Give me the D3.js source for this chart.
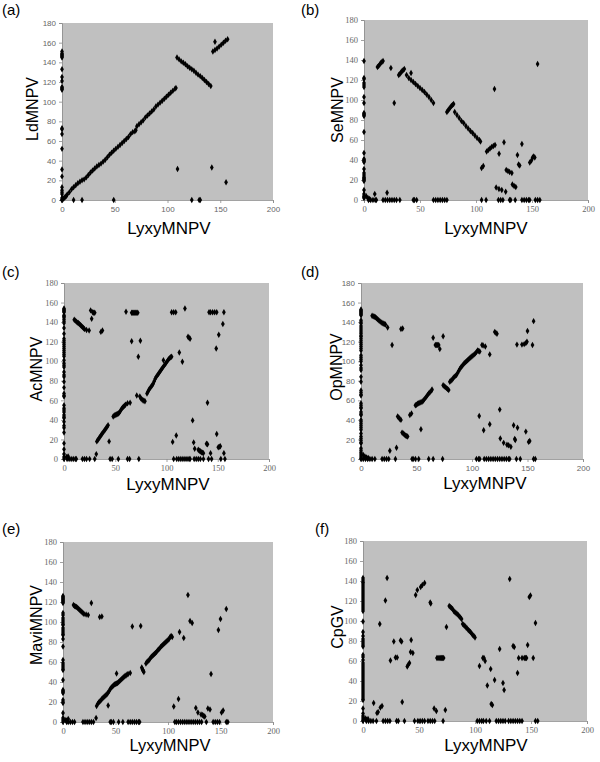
<!DOCTYPE html>
<html><head><meta charset="utf-8">
<script src="https://cdn.jsdelivr.net/npm/d3@7"></script>
<style>body{margin:0;background:#fff}svg{display:block}</style>
</head><body>
<svg id="chart" width="600" height="762"></svg>
<script>
// ---------- DATA ----------
const xTicks = [0, 50, 100, 150, 200];
const yTicks = [0, 20, 40, 60, 80, 100, 120, 140, 160, 180];
const panelLabels = ["(a)", "(b)", "(c)", "(d)", "(e)", "(f)"];
const yTitles = ["LdMNPV", "SeMNPV", "AcMNPV", "OpMNPV", "MaviMNPV", "CpGV"];
const xTitle = "LyxyMNPV";

// (a) LdMNPV
const aAxisY = [151,149,148,147,146,145,133,125,121,115,114,113,112,73,72,67,52,31,24,13,10,8,6,2,0];
const aZeroX = [11,19,49,123,130,131];
const aPoints = [[0,0],[1,1],[2,2],[3,3],[4,4],[5,5.5],[7,8],[9,11],[11,13],[13,15],[15,17],[17,18.5],[19,20],[21,21],[23,23],[25,25.5],[27,28],[29,30],[31,32],[33,34],[35,35.5],[37,37],[39,39],[41,41],[43,43.5],[45,46],[47,48],[49,50],[51,52],[53,54],[55,56],[57,58],[59,60],[61,62],[63,64],[65,67],[67,69],[69,70],[70,71],[71,75],[73,77],[75,79],[77,81],[79,84],[81,86],[83,88],[85,90],[87,92],[89,95],[91,97],[93,99],[95,101],[97,103],[99,105],[101,107],[103,109],[105,111],[107,113],[108,114],
[109,145],[111,143],[113,141],[115,139.5],[117,138],[119,136],[121,134.5],[123,133],[125,131.5],[127,129.5],[129,127.5],[131,126],[133,124],[135,122],[137,120],[139,118],[141,116],
[143,151],[145,152.5],[147,154],[149,156],[151,158],[153,160],[155,162],[157,163.5],[145,161],
[109.5,31.5],[142,33],[155.5,18]];

// (b) SeMNPV
const bAxisY = [139,122,121,117,115,113,103,97,87,86,85,84,68,47,41,40,39,38,31,27,25,23,22,21,20,19,10,6,4,3,2];
const bZeroX = [4,6,8,10,11,17,19,21,23,25,27,29,32,44,45,47,62,64,66,68,70,72,74,105,109,120,122,124,130,131,135,141,143,145,147,148,153,155,157];
const bPoints = [[2,3.7],[3.5,2],[5,1],[9.6,6],[20.6,7.3],
[12,133],[13,134],[14,135.5],[15,137],[16,138],[17,139],[24,132],[27,97],
[31,125],[32,126],[33,127.5],[34,129],[35,130],[36,131],[42,127],
[38,125],[40,122],[42,120],[44,118],[46,116],[48,114],[50,112],[52,110],[54,108],[56,105.5],[58,103],[60,100],[62,97],
[74,88],[75,89.5],[76,91],[77,92.5],[78,94],[79,95],[80,96],
[81,88],[83,85],[85,82],[87,79],[89,77],[91,74],[93,71.5],[95,69],[97,67],[99,64.5],[101,62],[103,60],[104,58.5],
[105,32],[106.5,34],[109.5,48.5],[111,50],[112.5,51.5],[114,53],[115.5,54],[117,55],[116.5,111],
[118,12.5],[120.5,11],[123,10],[126.5,8.3],[120.6,46.3],[125,57.7],
[127,30],[128.5,29],[130,28],[132,27],[132.5,15.5],[134,14],[135.5,13],
[137,45],[138,35.5],[139,34.5],[141,56],[148,37.5],[149.5,39.5],[150.5,42.5],[151.5,43.5],[152.5,42.5],[155,136]];

// (c) AcMNPV
const cAxisY = [154,153,152,151,150,147,146,145,143,141,139,134,128,123,121,119,117,115,113,111,109,107,105,101,98,96,94,89,86,84,79,73,67,65,64,55,52,50,48,45,43,42,38,34,32,27,16,10,5,2,0];
const cZeroX = [3,5,7,9,11,12,18,20,22,25,30,45,47,53,62,64,73,107,110,112,114,116,118,120,122,123,127,129,131,133,136,141,144,153,157];
const cPoints = [[2.5,2],[4,2.7],[31.5,5],
[10,142.5],[11,141.5],[12,140.5],[13,139.5],[14,139],[15,138],[16,137],[17,136],[18,135],[19,134],[20,133],[22,132],[24.5,131.5],
[26,152],[28,150],[29,149.5],[30,149.5],[27,143.5],[36,130],[37.5,131.5],
[60.5,150.5],[66,149.5],[67,149.5],[68,149.5],[69,149.5],[70,149.5],[71,149.5],[72,149.5],
[66,120.5],[72.5,104.5],[74.5,121],[105,150],[107,150],[109,150],[118,154],
[121,125],[122,124],[123,123],[141.5,150],[143,150],[145,150],[147,150],[149,150],[156,150],
[155,138],[151,127],[148.5,113],[112.5,109],[115.5,99.5],[97,101],
[32,18],[33,19.5],[34,21],[35,22.5],[36,24],[37,25.5],[38,27],[39,28.5],[40,30],[41,31.5],[42,33],[43,34.5],[44,18],
[48,43.5],[49,44.5],[50,45],[51,45.5],[52,46],[53,46.5],[54,47.5],[55,49],[56,51],[57,52.5],[58,53.5],[59,54.5],[60,55.5],[62,57],[64.5,57.5],
[71,65],[74,64],[75,62],[76,61],[77,60],[78,59.5],[79,59],
[81,67],[82,69],[83,71],[84,72.5],[85,74],[86,75.5],[87,77],[88,79.5],[89,82],[90,84],[91,85.5],[92,87],[93,88.5],[94,90],[95,91.5],[96,93],[97,94.5],[98,96],[99,97.5],[100,99],[101,100.5],[102,102],[103,103],[104,104],[105,104.5],
[106,17.5],[109.5,24],[125.5,39.5],[126.5,17],[127.5,10.5],[131,9.5],[132,8.5],[133,8],[134,7],[135,6.5],[136,6],[139,15.5],[140,15],[140,57.5],[143,6],[149,25.5],[150.5,12],[151.5,12.5],[152.5,13],[156,6]];

// (d) OpMNPV
const dAxisY = [153,152,151,150,149,148,147,142,140,138.5,136,134,132,130,128,126,125,123,121,119,117,115,113,111,106,104,102,100,96,93,91,84,79,70,68,66,65,57,55,53,52,48,46,45,40,38,36,34,32,30,26,23,21,19,17,16,11,9,7,5,3,1,0];
const dZeroX = [2,4,6,8,10,12.5,19,21,23,25,31,46,47,49,52,61,65,73.5,104,106,107,111,113,115,117,119,121,123,125,127,129,131,133,134,140,143.5,155.5,157];
const dPoints = [[2,4],[3.5,2.5],[5,1.5],[6.5,1],
[10,146.5],[11,146],[12,145.5],[13,145],[14,144],[15,143],[16,142],[17,141],[18,140],[19,139],[20,138.5],[21,138],[22,137.5],[24,134.5],
[28,116.5],[36,133],[37.5,133.5],[26,8.5],[32,11.5],
[33,43.5],[34,42.5],[35,41],[36,40],[37,27],[38,26],[39,25],[40,24],[41,23.5],[42,23],[44,45],[45.5,46.5],[54,30.5],
[49,55],[50,55.5],[51,56.5],[52,57],[53,57.5],[54,58],[55,58.5],[56,59.5],[57,61],[58,62.5],[59,64],[60,65.5],[61,67],[62,68],[63.5,70],[64,71],
[65,124],[67,116.5],[68,116.5],[69,116.5],[70,116.5],[71,112.5],[74,125.5],
[74,75.5],[75,74.5],[76,73.5],[77,72.5],[78,71.5],[79,70.5],
[80,79],[81,80],[82,81],[83,82.5],[84,84],[85,85],[86,86],[87,88],[88,90],[89,92],[90,93.5],[91,95],[92,96.5],[93,98],[94,99],[95,100],[96,101],[97,102],[98,103],[99,104],[100,105],[101,106],[102,107],[103,108],[104,109.5],[105,111],[106,110.5],[107,110],
[109,116.5],[110,116],[112,115],[116,107],[120.5,130],[121.5,129],[122.5,128],
[106.5,44],[110.5,29.5],[116,35.5],[125,50.5],[125.5,21],[128.5,16.5],[131.5,14.5],[133,14],[135,12.5],[137.5,34.5],[138.5,20.5],[139,19.5],[141,32],[148.5,28],[151,17.5],[152,18.5],
[140.5,117],[145,117],[147,117.5],[148.5,118.5],[149.5,120],[150,131],[154.5,116.5],[155.5,141]];

// (e) MaviMNPV
const eAxisY = [126,125,124,123,122,121,120,119,109,107,104,102,100,98,97,94,92,90,88,87,83,75.5,62,59,57,55,53,52,42,32,31,30,29,22,20,19,9,4,2,0];
const eZeroX = [3.5,5,7,9,11,19,21,23,25,27,29,45,46,48,53,57,62,64,66,68,70,72,73,106.5,108,110,112,114,116,118,120,122,124,126,128,130,132,136.5,143,145,147,149,155.5,157];
const ePoints = [[2,2],[3.5,1.5],[5,3],
[10,117],[11,116],[12,115.5],[13,115],[14,114],[15,113],[16,112],[17,111],[18,110],[19,109],[20,108],[22,107.5],[24,107],
[27,119],[35,105],[37,105.5],[66,95.5],[74,96],[31.5,4],[43,16.5],
[32,16],[33,18],[34,19.5],[35,20.5],[36,21.5],[37,23],[38,24],[39,25],[40,26],[41,27],[42,28],[43,29.5],[44,31],[45,33],[46,34.5],[47,35.5],[48,36.5],[49,37.5],[50,38],[51,38.5],[52,39],[53,40],[54,41],[55,42],[56,43],[57,44],[58,45],[59,46],[60,46.5],[61,47.5],[62,48],[64,49],[51,48.5],
[75,54.5],[75.5,53],[76,52],[76.5,51],[77,50],
[79,58.5],[80,60],[81,61],[82,62],[83,63.5],[84,65],[85,66],[86,67],[87,68],[88,69],[89,70],[90,71.5],[91,72.5],[92,73.5],[93,75],[94,76],[95,77],[96,78],[97,79],[98,80],[99,81],[100,82],[101,83],[102,85],[103,86],[104,85],
[111,90],[115,84],[119,127],[121,101],[123,99],
[105.5,15.5],[110,23],[126.5,14],[128.5,9.5],[131.5,7.5],[133,7],[134,6],[135,5.5],[138,13.5],[140,12.5],[141,48],[148,92],[150,103],[151,9.5],[152.5,11.5],[155.5,113]];

// (f) CpGV
const fAxisY = [143,141,139,138,136,134,132,130,128,126,124,122,120,118,116,114,112,110,99.5,89,85,82,80,78,76,74.5,66,64,61,58,56,54,52,50,48,46,44,42,40,38,36,34,32,30,28,26,24,22,21,12.5,7.5,5,3,1,0];
const fZeroX = [3,5,7,9,12,18,20,22,24,30,31.5,37,46,49,51,53,55,58,60,62,64,71.5,102,104,106,107.5,110,113,119,121,123,125,127,130,132,134,136,138,140,142,154,156];
const fPoints = [[2,2.5],[3,1.5],[4.5,2],
[9.5,18],[12.5,8],[13.5,9],[15.5,13.5],[17,15],[15,97],[20,120.5],[21.5,143],[24.5,60.5],[27.5,79.5],[29,63.5],[30.5,63.5],[33.5,80.5],[34.5,79.5],[35,19],
[39.5,54.5],[40.5,56.5],[41.5,58],[42.5,69],[44.5,68],[43,81],[47,126],[48.5,131],[51.5,134],[53,136],[55,138],[60,118.5],[60.5,117.5],
[63.5,12.5],[65.5,10],[73.5,11],[66,63],[67,63],[68,63],[69,63],[70,63],[71,63],[72,63],[74.5,94],
[77,115],[78,114],[79,113],[80,112],[81,110],[82,109],[83,108],[84,107],[85,106],[86,104.5],[87,103.5],[88,102],[89,97],[90,96],[91,95],[92,93.5],[93,92.5],[94,91],[95,90],[96,89],[97,87.5],[98,86],[99,85],[100,83.5],
[104,55],[107,63],[108,63],[109,60],[111,35.5],[114,52],[114.5,17],[115.5,16],[117.5,41],[122,72],[125,38],[126,31],[131,142],[134,75],[135,74],[138,48],[139,63],[142,63],[144,63],[145,63],[146,63],[147,76],[148.5,124],[149.5,125.5],[152,63],[154,98]];

// ---------- LAYOUT ----------
const layout = [
  {x0:62, x1:273, top:23, bot:200, lab:[2,15], yt:[38,109], xt:[169,234], xfs:17, serif:false},
  {x0:364, x1:588, top:20, bot:200, lab:[301,15], yt:[343,110], xt:[486,234], xfs:17, serif:true},
  {x0:64, x1:269, top:283, bot:459, lab:[2,277], yt:[42,369], xt:[168,490], xfs:17, serif:true},
  {x0:361, x1:583, top:283, bot:459, lab:[301,277], yt:[342,367], xt:[485,489], xfs:17, serif:false},
  {x0:63, x1:273, top:542, bot:722, lab:[2,534], yt:[42,625], xt:[170,751], xfs:16.5, serif:true},
  {x0:363, x1:587, top:541, bot:721, lab:[315,534], yt:[343,627], xt:[486,751], xfs:17, serif:true}
];
const sets = [
  [aAxisY, aZeroX, aPoints],[bAxisY, bZeroX, bPoints],[cAxisY, cZeroX, cPoints],
  [dAxisY, dZeroX, dPoints],[eAxisY, eZeroX, ePoints],[fAxisY, fZeroX, fPoints]
];

const svg = d3.select("#chart");
const sym = d3.symbol().type(d3.symbolDiamond).size(12);

layout.forEach((L, i) => {
  const [axY, zeroX, pts] = sets[i];
  const data = pts.concat(axY.map(y => [0, y]), zeroX.map(x => [x, 0]));
  const x = d3.scaleLinear().domain([0, 200]).range([L.x0, L.x1]);
  const y = d3.scaleLinear().domain([0, 180]).range([L.bot, L.top]);
  const g = svg.append("g");
  const tickFont = L.serif ? "'Liberation Serif','Times New Roman',serif" : "'Liberation Sans',Arial,sans-serif";

  g.append("rect").attr("x", L.x0).attr("y", L.top)
    .attr("width", L.x1 - L.x0).attr("height", L.bot - L.top).attr("fill", "#c0c0c0");

  const ya = g.append("g").attr("transform", `translate(${L.x0},0)`)
    .call(d3.axisLeft(y).tickValues(yTicks).tickSize(3).tickPadding(3));
  const xa = g.append("g").attr("transform", `translate(0,${L.bot})`)
    .call(d3.axisBottom(x).tickValues(xTicks).tickSize(3).tickPadding(3));
  [ya, xa].forEach(a => {
    a.selectAll("path,line").attr("stroke", "#8a8a8a").attr("stroke-width", 0.8);
    a.selectAll("text").attr("fill", "#666").attr("font-size", L.serif ? 8.5 : 8)
      .attr("font-family", tickFont);
  });

  g.append("g").selectAll("path").data(data).join("path")
    .attr("d", sym)
    .attr("transform", d => `translate(${x(d[0])},${y(d[1])})`)
    .attr("fill", "#000");

  svg.append("text").attr("x", L.lab[0]).attr("y", L.lab[1])
    .attr("font-family", "'Liberation Sans',Arial,sans-serif").attr("font-size", 15)
    .text(panelLabels[i]);
  svg.append("text").attr("transform", `translate(${L.yt[0]},${L.yt[1]}) rotate(-90)`)
    .attr("text-anchor", "middle")
    .attr("font-family", "'Liberation Sans',Arial,sans-serif").attr("font-size", 16)
    .text(yTitles[i]);
  svg.append("text").attr("x", L.xt[0]).attr("y", L.xt[1])
    .attr("text-anchor", "middle")
    .attr("font-family", "'Liberation Sans',Arial,sans-serif").attr("font-size", L.xfs)
    .text(xTitle);
});
</script>
</body></html>
